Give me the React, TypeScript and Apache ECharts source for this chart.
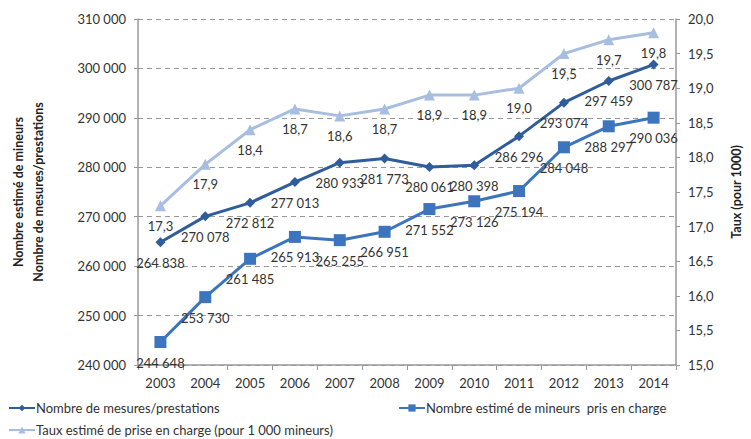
import React, { useEffect, useRef } from "react";
import * as echarts from "echarts";

const years = ["2003", "2004", "2005", "2006", "2007", "2008", "2009", "2010", "2011", "2012", "2013", "2014"];
const mesures = [264838, 270078, 272812, 277013, 280933, 281773, 280061, 280398, 286296, 293074, 297459, 300787];
const mineurs = [244648, 253730, 261485, 265913, 265255, 266951, 271552, 273126, 275194, 284048, 288297, 290036];
const taux = [17.3, 17.9, 18.4, 18.7, 18.6, 18.7, 18.9, 18.9, 19.0, 19.5, 19.7, 19.8];

const nameMesures = "Nombre de mesures/prestations";
const nameMineurs = "Nombre estimé de mineurs  pris en charge";
const nameTaux = "Taux estimé de prise en charge (pour 1 000 mineurs)";

const FONT = "Lato";
const fmtInt = (v: number) => String(Math.round(v)).replace(/\B(?=(\d{3})+(?!\d))/g, " ");
const fmtDec = (v: number) => v.toFixed(1).replace(".", ",");

export default function App() {
  const ref = useRef<HTMLDivElement>(null);
  useEffect(() => {
    const chart = echarts.init(ref.current!, null, { renderer: "svg" });
    const txt = { fontFamily: FONT, fontSize: 13, color: "#333" };
    const legTxt = { fontFamily: FONT, fontSize: 13, color: "#333", lineHeight: 14, padding: [0, 0, 0, -4] };
    chart.setOption({
      animation: false,
      textStyle: { fontFamily: FONT },
      grid: { left: 117, right: 72, top: 19, bottom: 74 },
      legend: [
        { data: [nameMesures], left: 8, top: 401, padding: 0, itemWidth: 26, itemHeight: 8, textStyle: legTxt },
        { data: [nameMineurs], left: 398, top: 401, padding: 0, itemWidth: 26, itemHeight: 9, textStyle: legTxt },
        { data: [nameTaux], left: 8, top: 423, padding: 0, itemWidth: 26, itemHeight: 9, textStyle: legTxt },
      ],
      xAxis: {
        type: "category",
        data: years,
        boundaryGap: true,
        axisLine: { lineStyle: { color: "#999", width: 1.5 } },
        axisTick: { show: true, length: 5, lineStyle: { color: "#999" } },
        axisLabel: { ...txt, margin: 11 },
      },
      yAxis: [
        {
          type: "value",
          min: 240000,
          max: 310000,
          interval: 10000,
          name: "Nombre estimé de mineurs\nNombre de mesures/prestations",
          nameLocation: "middle",
          nameRotate: 90,
          nameGap: 90,
          nameTextStyle: { fontFamily: FONT, fontSize: 12.5, fontWeight: "bold", color: "#222", lineHeight: 20 },
          axisLine: { show: true, lineStyle: { color: "#999", width: 1.5 } },
          axisTick: { show: true, length: 4, lineStyle: { color: "#999" } },
          axisLabel: { ...txt, margin: 12, formatter: (v: number) => fmtInt(v) },
          splitLine: { show: true, lineStyle: { color: "#999", type: [5, 4], width: 1 } },
        },
        {
          type: "value",
          min: 15,
          max: 20,
          interval: 0.5,
          position: "right",
          name: "Taux (pour 1000)",
          nameLocation: "middle",
          nameRotate: 90,
          nameGap: 54,
          nameTextStyle: { fontFamily: FONT, fontSize: 12.5, fontWeight: "bold", color: "#222" },
          axisLine: { show: true, lineStyle: { color: "#999", width: 1.5 } },
          axisTick: { show: true, length: 4, lineStyle: { color: "#999" } },
          axisLabel: { ...txt, margin: 12, formatter: (v: number) => fmtDec(v) },
          splitLine: { show: false },
        },
      ],
      series: [
        {
          name: nameTaux,
          type: "line",
          yAxisIndex: 1,
          data: taux,
          symbol: "triangle",
          symbolSize: 11,
          color: "#A8BEE0",
          lineStyle: { color: "#A8BEE0", width: 3 },
          itemStyle: { color: "#A8BEE0" },
          label: { show: true, position: "bottom", distance: 8, ...txt, formatter: (p: any) => fmtDec(p.value) },
          z: 2,
        },
        {
          name: nameMesures,
          type: "line",
          yAxisIndex: 0,
          data: mesures,
          symbol: "diamond",
          symbolSize: 10,
          color: "#2F5D9C",
          lineStyle: { color: "#2F5D9C", width: 3 },
          itemStyle: { color: "#2F5D9C" },
          label: { show: true, position: "bottom", distance: 9, ...txt, formatter: (p: any) => fmtInt(p.value) },
          z: 3,
        },
        {
          name: nameMineurs,
          type: "line",
          yAxisIndex: 0,
          data: mineurs,
          symbol: "rect",
          symbolSize: 12,
          color: "#3D74BE",
          lineStyle: { color: "#3D74BE", width: 3 },
          itemStyle: { color: "#3D74BE" },
          label: { show: true, position: "bottom", distance: 8, ...txt, formatter: (p: any) => fmtInt(p.value) },
          z: 3,
        },
      ],
    });
    return () => chart.dispose();
  }, []);
  return <div ref={ref} style={{ width: 751, height: 439, position: "absolute", left: 0, top: 0 }} />;
}
